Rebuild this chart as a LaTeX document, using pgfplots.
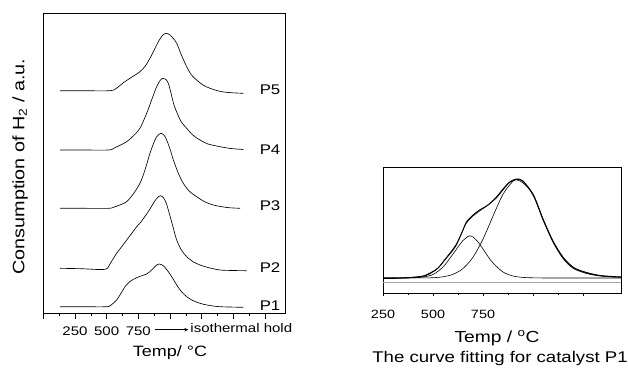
\documentclass[border=0pt]{standalone}
\usepackage{fontspec}
\setmainfont{Liberation Sans}[FakeStretch=1.2]
\usepackage{pgfplots}
\pgfplotsset{compat=1.18}
\usetikzlibrary{arrows.meta}

\begin{document}
\begin{tikzpicture}
\path[use as bounding box] (0pt,0pt) rectangle (628pt,376pt);
% ---------------- left panel ----------------
\begin{axis}[
  at={(43.3pt,63pt)}, anchor=south west,
  scale only axis, width=241.7pt, height=300pt,
  xmin=0, xmax=1908, ymin=0, ymax=300,
  xtick={0,250,...,1750}, xticklabels={,250,500,750,,,,},
  minor x tick num=1,
  ytick=\empty,
  xtick pos=left, tick align=outside,
  major tick length=5.5pt, minor tick length=3pt,
  tick style={black, line width=0.6pt},
  axis line style={line width=0.7pt},
  xticklabel style={font=\fontsize{12.5}{14}\selectfont, yshift=-5pt},
  /pgf/number format/assume math mode=true,
  xlabel={Temp/ °C},
  xlabel style={font=\fontsize{15}{17}\selectfont, at={(axis description cs:0.524,-0.133)}, anchor=center},
  ylabel={Consumption of H\textsubscript{2} / a.u.},
  ylabel style={font=\fontsize{16.5}{18}\selectfont, at={(axis description cs:-0.096,0.488)}, anchor=center},
  clip=false,
]
% P1
\addplot[black, line width=0.65pt, smooth, tension=0.5] coordinates {(132,6.3) (300,6.3) (500,6.3) (540,8.5) (579,13) (610,19) (645,26.3) (680,31) (711,33.7) (760,36.5) (816,39) (860,43.5) (890,47.5) (916,49) (950,47) (987,41.3) (1020,35) (1053,28) (1090,21.5) (1132,16.3) (1180,12.5) (1237,9.7) (1300,7.8) (1395,6.3) (1579,5.7)};
% P2
\addplot[black, line width=0.65pt, smooth, tension=0.5] coordinates {(132,44.7) (300,44.3) (487,43.7) (530,50) (579,59.7) (620,66.5) (658,73) (700,80) (737,86.3) (770,91) (816,99) (842,104) (880,112) (910,116.5) (927,117.3) (950,115) (970,110) (987,103) (1027,84.7) (1053,73) (1090,63) (1132,56.3) (1180,51.5) (1237,48) (1300,45.5) (1395,43) (1500,42.5) (1605,42.3)};
% P3
\addplot[black, line width=0.65pt, smooth, tension=0.5] coordinates {(132,104.7) (300,104.7) (514,104.7) (560,106) (610,108.3) (658,111.3) (710,119) (763,129.7) (800,142) (842,159.7) (875,171) (895,176.3) (927,179.7) (955,177.5) (974,173) (1000,164) (1027,153) (1065,140) (1105,129.7) (1155,121.5) (1211,116.3) (1270,111.5) (1342,108) (1450,105.5) (1553,104.7)};
% P4
\addplot[black, line width=0.65pt, smooth, tension=0.5] coordinates {(132,163) (300,163) (514,163) (560,165) (610,168) (658,171.3) (710,177) (763,184.7) (816,199.7) (855,213) (895,226.3) (925,233) (947,234.7) (968,233.5) (987,229.7) (1010,219) (1027,210) (1053,201) (1090,191) (1132,184.7) (1180,178) (1237,173) (1300,169) (1395,166.3) (1480,164.5) (1579,163.5)};
% P5
\addplot[black, line width=0.65pt, smooth, tension=0.5] coordinates {(132,222.3) (300,222.3) (527,222.3) (580,225) (632,230.3) (700,236) (763,241.3) (805,247) (842,254.7) (875,263) (908,271.3) (940,277.5) (969,279.7) (1000,278) (1030,274) (1053,269.7) (1090,258) (1132,246.3) (1170,238) (1211,233) (1260,228) (1316,224.7) (1400,221.5) (1480,220.3) (1579,219.7)};
\begin{scope}[font=\fontsize{14}{16}\selectfont]
\node at (axis cs:1790,7) {P1};
\node at (axis cs:1790,45) {P2};
\node at (axis cs:1790,107) {P3};
\node at (axis cs:1790,163) {P4};
\node at (axis cs:1790,223) {P5};
\end{scope}
\draw[line width=0.5pt, -{Stealth[length=4pt,width=3.5pt]}] (axis cs:882,-16.7) -- (axis cs:1145,-16.7);
\node[anchor=base west, inner sep=0pt, font=\fontsize{12.5}{14}\selectfont] at (axis cs:1160,-19) {isothermal hold};
\end{axis}
% ---------------- right panel ----------------
\begin{axis}[
  at={(383pt,83pt)}, anchor=south west,
  scale only axis, width=238pt, height=126pt,
  xmin=250, xmax=1440, ymin=-15, ymax=111,
  xtick={250,500,...,1250}, xticklabels={250,500,750,,},
  minor x tick num=1,
  ytick=\empty,
  xtick pos=left, tick align=outside,
  major tick length=3pt, minor tick length=2pt,
  tick style={black, line width=0.6pt},
  axis line style={line width=0.7pt},
  xticklabel style={font=\fontsize{12}{14}\selectfont, yshift=-11pt},
  /pgf/number format/assume math mode=true,
  xlabel={Temp / \textsuperscript{o}C},
  xlabel style={font=\fontsize{16}{18}\selectfont, at={(axis description cs:0.479,-0.357)}, anchor=center},
  clip=false,
]
\addplot[gray!70, line width=0.5pt] coordinates {(250,-4) (1440,-4)};
% small component
\addplot[black, line width=0.6pt, smooth, tension=0.5] coordinates {(250,0) (400,0.2) (450,1) (500,3.5) (550,11) (600,24) (625,31) (650,37.5) (680,42) (700,41) (725,36) (750,29) (775,21.5) (800,15) (850,6) (900,2) (950,0.6) (1000,0.2) (1100,0) (1440,0)};
% large component
\addplot[black, line width=0.6pt, smooth, tension=0.5] coordinates {(250,0) (450,0.1) (500,0.3) (550,1.2) (600,3.7) (650,9.5) (700,20.8) (750,38.9) (800,61.9) (850,83.8) (900,96.8) (920,98) (950,95) (1000,84) (1050,59) (1100,37) (1150,21) (1200,11) (1250,6) (1300,3.5) (1350,2) (1400,1.2) (1440,1)};
% fitted sum
\addplot[black, line width=0.6pt, smooth, tension=0.5] coordinates {(250,0) (350,0.2) (400,0.5) (450,1.5) (483,4) (525,10) (567,20.5) (600,29) (617,34) (650,48) (667,55) (700,62) (733,67) (775,73) (817,80) (850,88) (883,95.5) (918,98.5) (950,96.5) (1002,82) (1052,57) (1102,35) (1152,19) (1202,9.5) (1268,4.5) (1335,2) (1400,1) (1440,0.8)};
% experimental
\addplot[black, line width=0.9pt, smooth, tension=0.5] coordinates {(250,-0.5) (300,-0.4) (350,0) (400,0.8) (450,2) (483,4.7) (525,10) (567,20) (600,28) (617,33) (650,48) (667,56) (700,63) (733,68) (775,73) (817,81) (850,89) (883,96) (918,99) (950,97) (1002,83) (1052,58) (1102,36) (1152,20) (1202,10.5) (1268,5.5) (1335,2.5) (1400,1.5) (1440,1)};
\end{axis}
\node[font=\fontsize{15.5}{17}\selectfont] at (500pt,18pt) {The curve fitting for catalyst P1};
\end{tikzpicture}
\end{document}
